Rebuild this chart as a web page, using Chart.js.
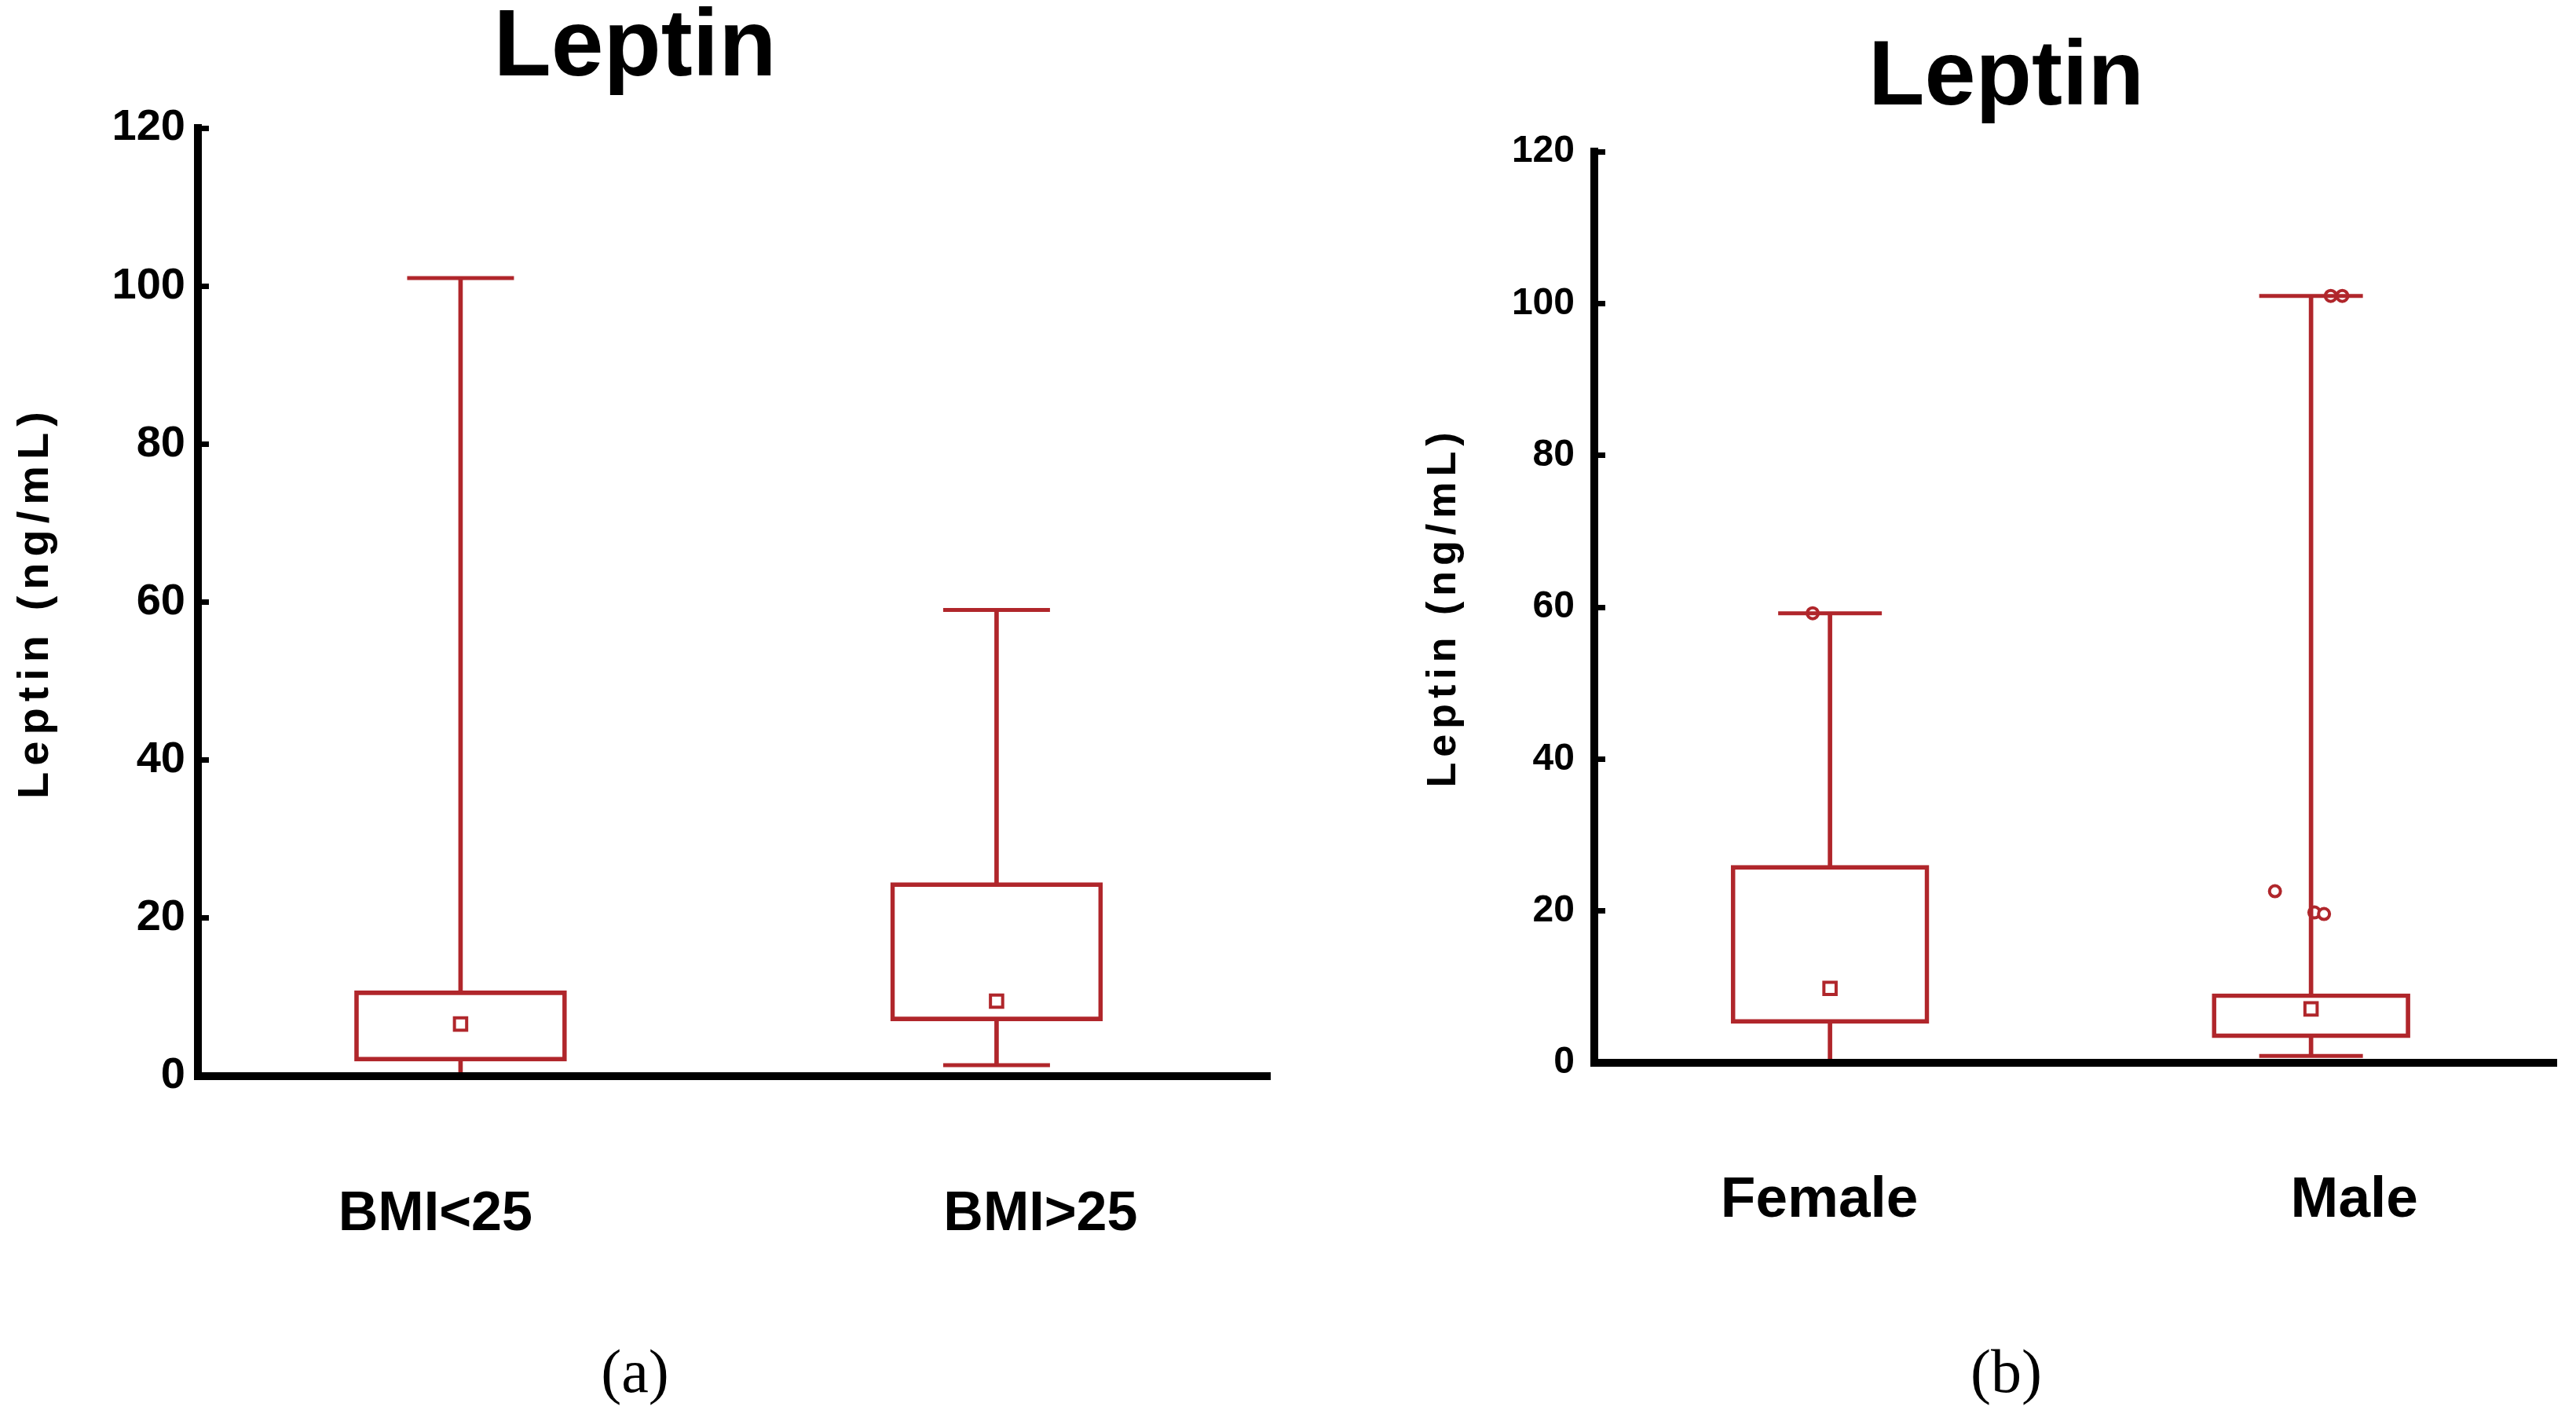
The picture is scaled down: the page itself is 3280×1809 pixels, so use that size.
<!DOCTYPE html>
<html>
<head>
<meta charset="utf-8">
<script src="https://cdn.jsdelivr.net/npm/chart.js@4.4.1/dist/chart.umd.min.js"></script>
<style>
  html, body { margin: 0; background: #fff; overflow: hidden; }
  #wrap { position: relative; width: 3280px; height: 1809px; }
  .panel { position: absolute; top: 0; height: 1809px; }
</style>
</head>
<body>
<div id="wrap">
  <div class="panel" style="left:0;width:1650px"><canvas id="chartA"></canvas></div>
  <div class="panel" style="left:1790px;width:1529px"><canvas id="chartB"></canvas></div>
</div>
<script>
// (a) leptin by BMI group
const bmiGroups = ['BMI<25', 'BMI>25'];
const bmiLabelAt = [0.453, 1.582];   // where the group names sit on the x axis
const bmiMin = [0, 1.4];
const bmiQ1 = [1.9, 7.0];
const bmiQ3 = [10.8, 24.5];
const bmiMax = [101, 59];
const bmiMean = [6.6, 9.5];

// (b) leptin by sex
const sexGroups = ['Female', 'Male'];
const sexLabelAt = [0.478, 1.59];
const sexMin = [0, 0.9];
const sexQ1 = [5.2, 3.3];
const sexQ3 = [26.0, 9.1];
const sexMax = [59.2, 101];
const sexMean = [9.8, 7.1];
// single points off the box: which group, small jitter from the group centre, value
const sexOutGroup = [0, 1, 1, 1, 1, 1];
const sexOutJitter = [-0.036, -0.075, 0.007, 0.027, 0.041, 0.065];
const sexOutValue = [59.2, 22.6, 19.8, 19.6, 101, 101];

const yTicks = [0, 20, 40, 60, 80, 100, 120];

const RED = '#b0262b';
const SANS = "'Liberation Sans', Arial, sans-serif";

// stretch the y axis title a bit, like the original figure
const spacedTitle = {
  id: 'spacedTitle',
  beforeDraw(chart, args, opts) {
    const s = chart.scales.y;
    if (s._spaced) return;
    const orig = s.drawTitle;
    s.drawTitle = function () {
      const c = this.ctx;
      c.save();
      c.letterSpacing = opts.spacing + 'px';
      orig.call(this);
      c.restore();
    };
    s._spaced = true;
  }
};

function boxChart(id, p) {
  const pos = p.groups.map((g, i) => i + 0.5);
  const datasets = [
    {
      type: 'bar', data: pos.map((x, i) => ({x: x, y: [p.q1[i], p.q3[i]]})),
      backgroundColor: 'rgba(0,0,0,0)', borderColor: RED, borderWidth: 5,
      borderSkipped: false, barThickness: p.boxW, grouped: false
    },
    {
      type: 'bar', data: pos.map((x, i) => ({x: x, y: [p.q3[i], p.max[i]]})),
      backgroundColor: RED, borderWidth: 0, barThickness: 5, grouped: false
    },
    {
      type: 'bar', data: pos.map((x, i) => ({x: x, y: [p.min[i], p.q1[i]]})),
      backgroundColor: RED, borderWidth: 0, barThickness: 5, grouped: false
    },
    {
      type: 'line', showLine: false,
      data: pos.map((x, i) => ({x: x, y: p.max[i]})).concat(pos.map((x, i) => ({x: x, y: p.min[i]}))),
      pointStyle: 'line', pointRadius: p.capW, pointBorderWidth: 5, pointBorderColor: RED
    },
    {
      type: 'line', showLine: false,
      data: pos.map((x, i) => ({x: x, y: p.mean[i]})),
      pointStyle: 'rect', pointRadius: 11, pointBorderWidth: 4,
      pointBorderColor: RED, pointBackgroundColor: '#fff'
    }
  ];
  if (p.outGroup) {
    datasets.push({
      type: 'line', showLine: false,
      data: p.outGroup.map((g, i) => ({x: pos[g] + p.outJitter[i], y: p.outValue[i]})),
      pointStyle: 'circle', pointRadius: 7, pointBorderWidth: 4,
      pointBorderColor: RED, pointBackgroundColor: '#fff'
    });
  }

  const scales = {
    x: {
      type: 'linear', min: 0.01, max: 2.01, offset: false,
      afterBuildTicks: s => { s.ticks = p.labelAt.map(v => ({value: v})); },
      afterFit: s => { s.height = p.xH; },
      grid: {display: false, drawTicks: false},
      border: {display: true, color: '#000', width: 10, z: 1},
      ticks: {
        color: '#000', padding: p.xPad, maxRotation: 0, autoSkip: false,
        font: {family: SANS, size: p.xFont, weight: 'bold', lineHeight: 1.2},
        callback: (v, i) => p.groups[i]
      }
    },
    y: {
      min: 0, max: 120,
      afterBuildTicks: s => { s.ticks = yTicks.map(v => ({value: v})); },
      afterFit: s => { s.width = p.yW; },
      // short tick marks pointing into the plot
      grid: {display: true, drawOnChartArea: false, drawTicks: true, tickLength: -14, tickWidth: 7, color: '#000'},
      border: {display: true, color: '#000', width: 10, z: 1},
      ticks: {
        color: '#000', padding: p.yPad,
        font: {family: SANS, size: p.yFont, weight: 'bold'}
      },
      title: {
        display: true, text: 'Leptin (ng/mL)', color: '#000',
        font: {family: SANS, size: p.yTitleSize, weight: 'bold', lineHeight: 1.2},
        padding: {top: p.yTitlePad, bottom: 0}
      }
    }
  };
  if (p.rightGap) {
    // empty strip on the right so the title sits where it does in the figure
    scales.gap = {
      position: 'right', display: true,
      afterFit: s => { s.width = p.rightGap; },
      grid: {display: false, drawTicks: false},
      border: {display: false},
      ticks: {display: false}
    };
  }

  return new Chart(document.getElementById(id), {
    type: 'bar',
    data: {datasets: datasets},
    plugins: [spacedTitle],
    options: {
      responsive: true,
      maintainAspectRatio: false,
      animation: false,
      layout: {autoPadding: false, padding: {top: p.padTop, right: p.padRight, left: 0, bottom: 0}},
      plugins: {
        legend: {display: false},
        tooltip: {enabled: false},
        spacedTitle: {spacing: p.ySpacing},
        title: {
          display: true, text: 'Leptin', color: '#000',
          font: {family: SANS, size: p.titleSize, weight: 'bold', lineHeight: 1},
          padding: {top: 0, bottom: p.titleGap}
        },
        subtitle: {
          display: true, position: 'bottom', text: p.caption, color: '#000',
          font: {family: "'Liberation Serif', 'Times New Roman', serif", size: 78, lineHeight: 1},
          padding: {top: 0, bottom: 18}
        }
      },
      scales: scales
    }
  });
}

boxChart('chartA', {
  groups: bmiGroups, labelAt: bmiLabelAt,
  min: bmiMin, q1: bmiQ1, q3: bmiQ3, max: bmiMax, mean: bmiMean,
  caption: '(a)', boxW: 270, capW: 68,
  padTop: 3, padRight: 33, titleSize: 120, titleGap: 40,
  xH: 343, xPad: 135, xFont: 70,
  yW: 252, yPad: 30, yFont: 56, yTitleSize: 56, yTitlePad: 12, ySpacing: 8
});

boxChart('chartB', {
  groups: sexGroups, labelAt: sexLabelAt,
  min: sexMin, q1: sexQ1, q3: sexQ3, max: sexMax, mean: sexMean,
  outGroup: sexOutGroup, outJitter: sexOutJitter, outValue: sexOutValue,
  caption: '(b)', boxW: 252, capW: 66,
  padTop: 42, padRight: 0, rightGap: 64, titleSize: 117, titleGap: 34,
  xH: 360, xPad: 132, xFont: 73,
  yW: 240, yPad: 39, yFont: 48, yTitleSize: 52, yTitlePad: 17, ySpacing: 7
});
</script>
</body>
</html>
